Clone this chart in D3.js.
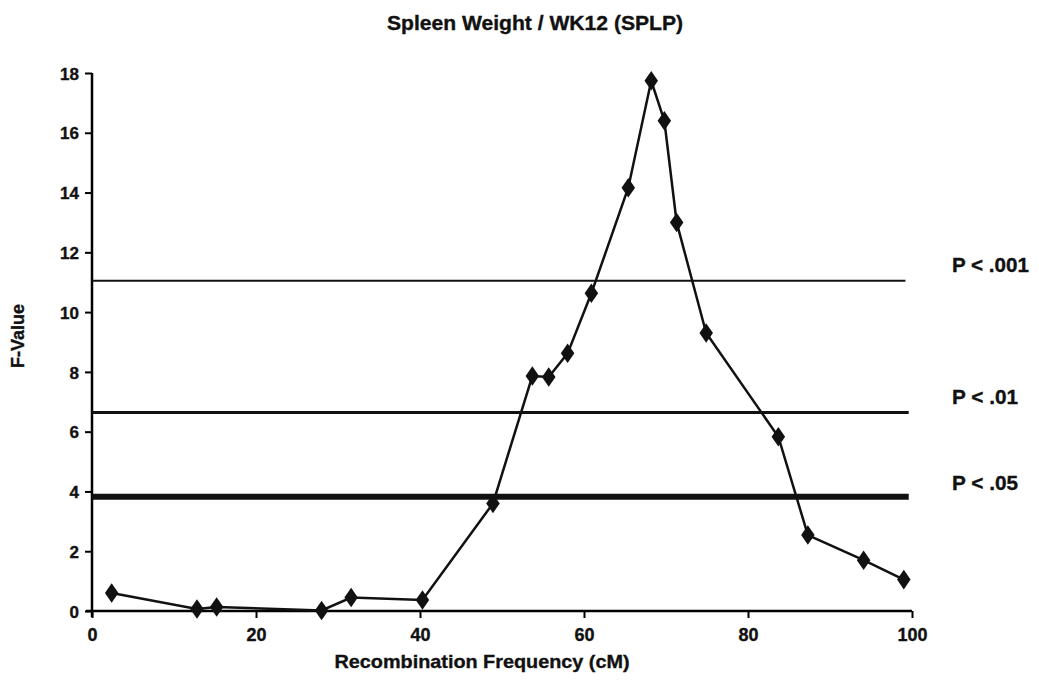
<!DOCTYPE html>
<html><head><meta charset="utf-8">
<script src="https://cdn.jsdelivr.net/npm/d3@7"></script>
<style>
body{margin:0;background:#fff;}
text{font-family:"Liberation Sans",Arial,sans-serif;font-weight:bold;fill:#111;stroke:#111;stroke-width:0.35px;}
</style></head>
<body><svg id="c" width="1039" height="681"></svg>
<script>
const positions = [2.4, 12.8, 15.2, 28.0, 31.6, 40.3, 48.9, 53.7, 55.7, 58.0, 60.9, 65.4, 68.2, 69.8, 71.3, 74.9, 83.7, 87.3, 94.1, 99.0];
const fValues   = [0.6, 0.07, 0.13, 0.02, 0.45, 0.37, 3.6, 7.86, 7.83, 8.62, 10.63, 14.16, 17.74, 16.4, 13.0, 9.3, 5.83, 2.54, 1.7, 1.05];
const thresholds = [11.05, 6.64, 3.82];
const thresholdLabels = ["P < .001", "P < .01", "P < .05"];
const thresholdWidths = [2, 3, 6];
const xTicks = [0, 20, 40, 60, 80, 100];
const yTicks = [0, 2, 4, 6, 8, 10, 12, 14, 16, 18];

const svg = d3.select("#c");
const x = d3.scaleLinear().domain([0, 100]).range([92, 912]);
const y = d3.scaleLinear().domain([0, 18]).range([611, 73]);

// title
svg.append("text").attr("x", 535).attr("y", 30).attr("text-anchor", "middle")
  .style("font-size", "20px").attr("textLength", 296).attr("lengthAdjust", "spacingAndGlyphs")
  .text("Spleen Weight / WK12 (SPLP)");

// axes
const yAxis = d3.axisLeft(y).tickValues(yTicks).tickSize(7).tickPadding(6);
const gy = svg.append("g").attr("transform", `translate(${x(0)},0)`).call(yAxis);
gy.select(".domain").attr("stroke-width", 2.5).attr("d", `M0,${y(18)}V${y(0)+6}`);
gy.selectAll(".tick line").attr("stroke-width", 2);
gy.selectAll(".tick text").style("font-size", "17px").attr("dy", "0.36em");

const xAxis = d3.axisBottom(x).tickValues(xTicks).tickSize(7).tickPadding(10);
const gx = svg.append("g").attr("transform", `translate(0,${y(0)})`).call(xAxis);
gx.select(".domain").attr("stroke-width", 2.5).attr("d", `M${x(0)-6},0H${x(100)}`);
gx.selectAll(".tick line").attr("stroke-width", 2);
gx.selectAll(".tick text").style("font-size", "18px");

svg.append("text").attr("x", 482).attr("y", 668).attr("text-anchor", "middle")
  .style("font-size", "19px").attr("textLength", 295).attr("lengthAdjust", "spacingAndGlyphs")
  .text("Recombination Frequency (cM)");
svg.append("text").attr("transform", `translate(24,336) rotate(-90)`).attr("text-anchor", "middle")
  .style("font-size", "18px").attr("textLength", 64).attr("lengthAdjust", "spacingAndGlyphs")
  .text("F-Value");

// threshold lines
const lineEnds = [99.2, 99.6, 99.6];
thresholds.forEach((t, i) => {
  svg.append("line").attr("x1", x(0)).attr("x2", x(lineEnds[i]))
    .attr("y1", y(t)).attr("y2", y(t))
    .attr("stroke", "#111").attr("stroke-width", thresholdWidths[i]);
});
const labelY = [272, 404, 490];
const labelW = [77, 66, 66];
thresholdLabels.forEach((l, i) => {
  svg.append("text").attr("x", 952).attr("y", labelY[i])
    .style("font-size", "20px").attr("textLength", labelW[i]).attr("lengthAdjust", "spacingAndGlyphs")
    .text(l);
});

// data line
const data = positions.map((p, i) => [p, fValues[i]]);
svg.append("path").datum(data)
  .attr("d", d3.line().x(d => x(d[0])).y(d => y(d[1])))
  .attr("fill", "none").attr("stroke", "#111").attr("stroke-width", 2.5);

const sym = d3.symbol().type(d3.symbolDiamond).size(110);
svg.selectAll(".pt").data(data).enter().append("path")
  .attr("transform", d => `translate(${x(d[0])},${y(d[1])}) scale(1.2,1)`)
  .attr("d", sym).attr("fill", "#111");
</script></body></html>
